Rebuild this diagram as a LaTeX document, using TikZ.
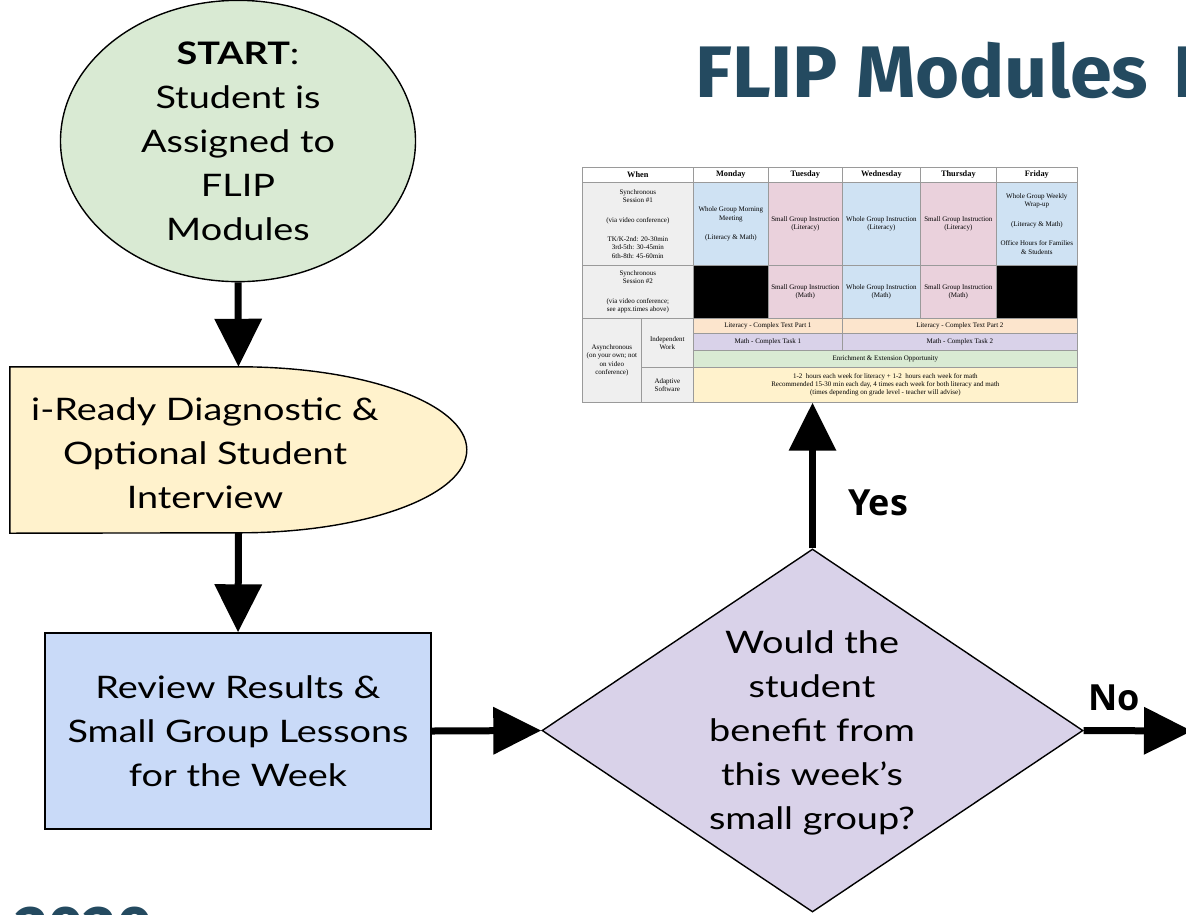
\documentclass[tikz,border=0pt]{standalone}
\usepackage{fontspec}
\setmainfont{Lato}
\newfontfamily\flowfont{Lato}[FakeStretch=1.22]
\newfontfamily\labfont{Open Sans}
\newfontfamily\titlefont{Fira Sans}[FakeStretch=1.035]
\newfontfamily\yearfont{Fira Sans}
\newfontfamily\tabfont{Liberation Serif}
\usetikzlibrary{shapes.geometric, arrows.meta}
\definecolor{startgreen}{HTML}{D9EAD3}
\definecolor{readyyellow}{HTML}{FFF2CC}
\definecolor{reviewblue}{HTML}{C9DAF8}
\definecolor{decidepurple}{HTML}{D9D2E9}
\definecolor{titlecol}{HTML}{244A60}
\definecolor{gridgray}{HTML}{9A9A9A}
\definecolor{cellgray}{HTML}{EFEFEF}
\definecolor{cellblue}{HTML}{CFE2F3}
\definecolor{cellpink}{HTML}{EAD1DC}
\definecolor{cellorange}{HTML}{FCE5CD}
\definecolor{cellpurple}{HTML}{D9D2E9}
\definecolor{cellgreen}{HTML}{D9EAD3}
\definecolor{cellyellow}{HTML}{FFF2CC}
\tikzset{
  flowtext/.style={font=\flowfont\fontsize{31pt}{44pt}\selectfont, align=center, inner sep=0pt},
  flowshape/.style={draw=black, line width=1.4pt},
  flowarrow/.style={line width=7pt, -{Triangle[length=48pt, width=46pt]}},
  answer/.style={font=\labfont\bfseries\fontsize{36pt}{40pt}\selectfont, anchor=base west, inner sep=0pt},
  tcell/.style={draw=gridgray, line width=0.7pt, inner sep=0pt, anchor=north west, align=center,
    font=\tabfont\fontsize{7pt}{8.4pt}\selectfont},
  thead/.style={tcell, fill=white, font=\tabfont\bfseries\fontsize{8.3pt}{9pt}\selectfont}
}
\begin{document}
\begin{tikzpicture}[x=1pt, y=-1pt]
\useasboundingbox (0,0) rectangle (1186,914);
\clip (0,0) rectangle (1186,914);

% title (cut by the frame)
\node[anchor=base west, inner sep=0pt, text=titlecol,
  font=\titlefont\bfseries\fontsize{73pt}{73pt}\selectfont] (title) at (695,97) {FLIP Modules\hspace{25pt}F};
\node[anchor=base west, inner sep=0pt, text=titlecol,
  font=\yearfont\bfseries\fontsize{63pt}{63pt}\selectfont] (year) at (15,950) {2020};

% start ellipse
\node[ellipse, flowshape, fill=startgreen, minimum width=355pt, minimum height=272pt, flowtext]
  (start) at (238,141) {{\bfseries START}:\\Student is\\Assigned to\\FLIP\\Modules};

% i-Ready shape
\node[minimum width=457pt, minimum height=166pt, inner sep=0pt] (iready) at (238.5,450) {};
\draw[flowshape, fill=readyyellow] (iready.north west) -- ++(230,0)
  arc[start angle=90, end angle=-90, x radius=227pt, y radius=83pt] -- (iready.south west) -- cycle;
\node[flowtext] (readytext) at (205,453) {i-Ready Diagnostic \&\\Optional Student\\Interview};

% review rectangle
\node[rectangle, flowshape, fill=reviewblue, minimum width=386pt, minimum height=196pt, flowtext]
  (review) at (238,731) {Review Results \&\\Small Group Lessons\\for the Week};

% decision diamond
\node[diamond, flowshape, fill=decidepurple, minimum width=541pt, minimum height=363pt, inner sep=0pt]
  (decide) at (812.5,730.5) {};
\node[flowtext] (decidetext) at (812,733) {Would the\\student\\benefit from\\this week’s\\small group?};

% schedule table
\node[thead, minimum width=111pt, minimum height=15pt] (hwhen) at (582,167) {When};
\node[thead, minimum width=75pt, minimum height=15pt] (hmon) at (693,167) {Monday};
\node[thead, minimum width=74pt, minimum height=15pt] (htue) at (768,167) {Tuesday};
\node[thead, minimum width=78pt, minimum height=15pt] (hwed) at (842,167) {Wednesday};
\node[thead, minimum width=76pt, minimum height=15pt] (hthu) at (920,167) {Thursday};
\node[thead, minimum width=81pt, minimum height=15pt] (hfri) at (996,167) {Friday};

\node[tcell, fill=cellgray, minimum width=111pt, minimum height=83pt] (sawhen) at (582,182)
  {Synchronous\\Session \#1\\[11pt](via video conference)\\[11pt]TK/K-2nd: 20-30min\\3rd-5th: 30-45min\\6th-8th: 45-60min};
\node[tcell, fill=cellblue, minimum width=75pt, minimum height=83pt] (samon) at (693,182)
  {Whole Group Morning\\Meeting\\[11pt](Literacy \& Math)};
\node[tcell, fill=cellpink, minimum width=74pt, minimum height=83pt] (satue) at (768,182)
  {Small Group Instruction\\(Literacy)};
\node[tcell, fill=cellblue, minimum width=78pt, minimum height=83pt] (sawed) at (842,182)
  {Whole Group Instruction\\(Literacy)};
\node[tcell, fill=cellpink, minimum width=76pt, minimum height=83pt] (sathu) at (920,182)
  {Small Group Instruction\\(Literacy)};
\node[tcell, fill=cellblue, minimum width=81pt, minimum height=83pt] (safri) at (996,182)
  {Whole Group Weekly\\Wrap-up\\[11pt](Literacy \& Math)\\[11pt]Office Hours for Families\\\& Students};

\node[tcell, fill=cellgray, minimum width=111pt, minimum height=53pt] (sbwhen) at (582,265)
  {Synchronous\\Session \#2\\[11pt](via video conference;\\see appx.times above)};
\node[tcell, fill=black, minimum width=75pt, minimum height=53pt] (sbmon) at (693,265) {};
\node[tcell, fill=cellpink, minimum width=74pt, minimum height=53pt] (sbtue) at (768,265)
  {Small Group Instruction\\(Math)};
\node[tcell, fill=cellblue, minimum width=78pt, minimum height=53pt] (sbwed) at (842,265)
  {Whole Group Instruction\\(Math)};
\node[tcell, fill=cellpink, minimum width=76pt, minimum height=53pt] (sbthu) at (920,265)
  {Small Group Instruction\\(Math)};
\node[tcell, fill=black, minimum width=81pt, minimum height=53pt] (sbfri) at (996,265) {};

\node[tcell, fill=cellgray, minimum width=59pt, minimum height=84pt] (async) at (582,318)
  {Asynchronous\\(on your own; not\\on video\\conference)};
\node[tcell, fill=cellgray, minimum width=52pt, minimum height=49pt] (indep) at (641,318)
  {Independent\\Work};
\node[tcell, fill=cellgray, minimum width=52pt, minimum height=35pt] (adsoft) at (641,367)
  {Adaptive\\Software};
\node[tcell, fill=cellorange, minimum width=149pt, minimum height=15pt] (lita) at (693,318)
  {Literacy - Complex Text Part 1};
\node[tcell, fill=cellorange, minimum width=235pt, minimum height=15pt] (litb) at (842,318)
  {Literacy - Complex Text Part 2};
\node[tcell, fill=cellpurple, minimum width=149pt, minimum height=17pt] (matha) at (693,333)
  {Math - Complex Task 1};
\node[tcell, fill=cellpurple, minimum width=235pt, minimum height=17pt] (mathb) at (842,333)
  {Math - Complex Task 2};
\node[tcell, fill=cellgreen, minimum width=384pt, minimum height=17pt] (enrich) at (693,350)
  {Enrichment \& Extension Opportunity};
\node[tcell, fill=cellyellow, minimum width=384pt, minimum height=35pt] (adapt) at (693,367)
  {1-2\ \ hours each week for literacy + 1-2\ \ hours each week for math\\
   Recommended 15-30 min each day, 4 times each week for both literacy and math\\
   (times depending on grade level - teacher will advise)};
\coordinate (tblbottom) at (decide.north |- adapt.south);

% connectors
\draw[flowarrow] (start.south) -- (iready.north);
\draw[flowarrow] (iready.south) -- (review.north);
\draw[flowarrow] (review.east) -- (decide.west);
\draw[flowarrow] (decide.north) -- (tblbottom);
\coordinate (noend) at (1192,731);
\draw[flowarrow] (decide.east) -- (noend);

\node[answer] (yes) at (848,515) {Yes};
\node[answer] (no) at (1088,710) {No};
\end{tikzpicture}
\end{document}
